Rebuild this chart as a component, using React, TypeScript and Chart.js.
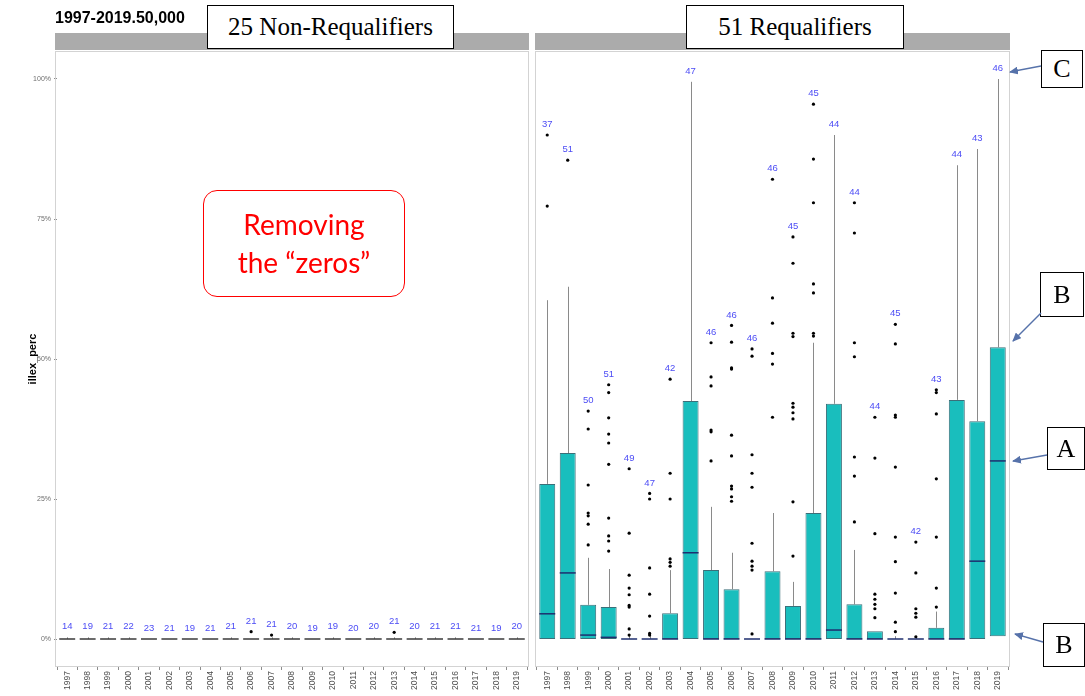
import React, { useEffect, useRef } from 'react';
import { Chart, registerables } from 'chart.js';

Chart.register(...registerables);

// ---------- data ----------
const years = ['1997', '1998', '1999', '2000', '2001', '2002', '2003', '2004', '2005', '2006', '2007', '2008',
  '2009', '2010', '2011', '2012', '2013', '2014', '2015', '2016', '2017', '2018', '2019'];

const yTicks = [0, 25, 50, 75, 100];

// 25 Non-Requalifiers
const nonCounts = [14, 19, 21, 22, 23, 21, 19, 21, 21, 21, 21, 20, 19, 19, 20, 20, 21, 20, 21, 21, 21, 19, 20];
const nonQ1 = [0, 0, 0, 0, 0, 0, 0, 0, 0, 0, 0, 0, 0, 0, 0, 0, 0, 0, 0, 0, 0, 0, 0];
const nonMedian = [0, 0, 0, 0, 0, 0, 0, 0, 0, 0, 0, 0, 0, 0, 0, 0, 0, 0, 0, 0, 0, 0, 0];
const nonQ3 = [0, 0, 0, 0, 0, 0, 0, 0, 0, 0, 0, 0, 0, 0, 0, 0, 0, 0, 0, 0, 0, 0, 0];
const nonWhiskerHi = [0.3, 0.3, 0.3, 0.3, 0, 0, 0, 0, 0.3, 0, 0.3, 0.3, 0, 0.3, 0, 0.3, 0.3, 0.3, 0.3, 0.3, 0, 0, 0.3];
const nonOutliers = [[], [], [], [], [], [], [], [], [], [1.3], [0.7], [], [], [], [], [], [1.2], [], [], [], [], [], []];

// 51 Requalifiers
const reqCounts = [37, 51, 50, 51, 49, 47, 42, 47, 46, 46, 46, 46, 45, 45, 44, 44, 44, 45, 42, 43, 44, 43, 46];
const reqQ1 = [0, 0, 0, 0, 0, 0, 0, 0, 0, 0, 0, 0, 0, 0, 0, 0, 0, 0, 0, 0, 0, 0, 0.5];
const reqMedian = [4.5, 11.8, 0.7, 0.3, 0, 0, 0, 15.4, 0, 0, 0, 0, 0, 0, 1.6, 0, 0, 0, 0, 0, 0, 13.9, 31.8];
const reqQ3 = [27.7, 33.2, 6.1, 5.7, 0, 0, 4.6, 42.5, 12.3, 8.9, 0, 12.1, 5.9, 22.5, 42.0, 6.2, 1.4, 0, 0, 2.0, 42.7, 38.9, 52.1];
const reqWhiskerHi = [60.5, 62.9, 14.5, 12.5, 0.6, 0.6, 12.3, 99.5, 23.6, 15.4, 0, 22.5, 10.2, 52.9, 90.0, 15.9, 1.4, 0.5, 0.6, 4.9, 84.6, 87.5, 100];
const reqOutliers = [
  [90.0, 77.3],
  [85.5],
  [40.7, 37.5, 27.5, 22.5, 22.0, 20.5, 16.8],
  [45.4, 44.0, 39.5, 36.6, 35.0, 31.2, 21.6, 18.4, 17.5, 15.7],
  [30.4, 18.9, 11.4, 9.1, 7.9, 6.0, 5.7, 1.8, 0.7],
  [26.0, 25.0, 12.7, 8.0, 4.1, 1.0, 0.7],
  [46.4, 29.6, 25.0, 14.3, 13.7, 13.0],
  [],
  [52.9, 46.8, 45.2, 37.3, 37.0, 31.8],
  [56.0, 53.0, 48.4, 48.2, 36.4, 32.7, 27.3, 26.8, 25.4, 24.6],
  [51.8, 50.5, 32.9, 29.6, 27.1, 17.1, 13.9, 13.0, 12.3, 0.9],
  [82.1, 60.9, 56.4, 51.0, 49.1, 39.6],
  [71.8, 67.1, 54.6, 54.0, 42.1, 41.4, 40.4, 39.3, 24.5, 14.8],
  [95.5, 85.7, 77.9, 63.4, 61.8, 54.6, 54.1],
  [],
  [77.9, 72.5, 52.9, 50.4, 32.5, 29.1, 20.9],
  [39.6, 32.3, 18.8, 8.0, 7.1, 6.2, 5.4, 3.8],
  [56.2, 52.7, 40.0, 39.6, 30.7, 18.2, 13.8, 8.2, 3.0, 1.3],
  [17.3, 11.8, 5.4, 4.6, 3.9, 0.4],
  [44.5, 44.0, 40.2, 28.6, 18.2, 9.1, 5.7],
  [],
  [],
  [],
];

// ---------- styles ----------
const BOX_FILL = '#19BEBD';
const BOX_EDGE = '#3B6F79';
const WHISKER = '#8A8A8A';
const COUNT_COLOR = '#4C4CF5';
const SANS = '"Liberation Sans", Arial, sans-serif';

type Panel = {
  q1: number[]; median: number[]; q3: number[]; whiskerHi: number[];
  outliers: number[][]; counts: number[]; medianColor: string;
};

function boxPlugin(p: Panel) {
  return {
    id: 'boxExtras',
    beforeDatasetsDraw(chart: any) {
      const { ctx, chartArea, scales } = chart;
      const x = scales.x, y = scales.y;
      const unit = (chartArea.right - chartArea.left) / years.length;
      ctx.save();
      ctx.strokeStyle = '#D3D3D3';
      ctx.lineWidth = 1;
      ctx.strokeRect(Math.round(chartArea.left - 0.1 * unit) + 0.5, chartArea.top + 0.5,
        Math.round(chartArea.right - chartArea.left + 0.2 * unit) - 1, chartArea.bottom - chartArea.top - 1);
      ctx.strokeStyle = WHISKER;
      ctx.lineWidth = 1;
      p.whiskerHi.forEach((w, i) => {
        if (w <= p.q3[i]) return;
        const px = Math.round(x.getPixelForValue(i)) + 0.5;
        ctx.beginPath();
        ctx.moveTo(px, y.getPixelForValue(p.q3[i]));
        ctx.lineTo(px, y.getPixelForValue(w));
        ctx.stroke();
      });
      ctx.restore();
    },
    afterDatasetsDraw(chart: any) {
      const { ctx, scales } = chart;
      const x = scales.x, y = scales.y;
      const meta = chart.getDatasetMeta(0);
      ctx.save();
      ctx.strokeStyle = p.medianColor;
      ctx.lineWidth = 1.5;
      meta.data.forEach((bar: any, i: number) => {
        const half = bar.width / 2;
        const py = y.getPixelForValue(p.median[i]);
        ctx.beginPath();
        ctx.moveTo(bar.x - half, py);
        ctx.lineTo(bar.x + half, py);
        ctx.stroke();
      });
      ctx.fillStyle = COUNT_COLOR;
      ctx.font = '9.5px ' + SANS;
      ctx.textAlign = 'center';
      ctx.textBaseline = 'middle';
      p.counts.forEach((c, i) => {
        const top = Math.max(p.whiskerHi[i], p.q3[i], ...p.outliers[i]);
        ctx.fillText(String(c), x.getPixelForValue(i), y.getPixelForValue(top) - 10.5);
      });
      ctx.restore();
    },
  };
}

function makeChart(canvas: HTMLCanvasElement, p: Panel, showY: boolean, padding: any) {
  const points: { x: string; y: number }[] = [];
  p.outliers.forEach((arr, i) => arr.forEach((v) => points.push({ x: years[i], y: v })));
  return new Chart(canvas, {
    type: 'bar',
    data: {
      labels: years,
      datasets: [
        {
          type: 'bar',
          data: p.q1.map((v, i) => [v, p.q3[i]]) as any,
          backgroundColor: BOX_FILL,
          borderColor: BOX_EDGE,
          borderWidth: 1,
          borderSkipped: false,
          barPercentage: 0.78,
          categoryPercentage: 1,
          order: 2,
        } as any,
        {
          type: 'line',
          data: points as any,
          showLine: false,
          pointRadius: 1.6,
          pointBackgroundColor: '#000',
          pointBorderWidth: 0,
          order: 1,
        } as any,
      ],
    },
    options: {
      responsive: false,
      animation: false,
      devicePixelRatio: 1,
      layout: { padding },
      plugins: { legend: { display: false }, tooltip: { enabled: false } },
      scales: {
        x: {
          type: 'category',
          offset: true,
          grid: { display: true, drawOnChartArea: false, tickLength: 3, color: '#8C8C8C' },
          border: { display: false },
          ticks: {
            autoSkip: false, maxRotation: 90, minRotation: 90, padding: 1,
            font: { family: SANS, size: 8.5 }, color: '#4D4D4D',
          },
          afterFit: (s: any) => { s.height = 29; },
        },
        y: {
          display: showY,
          min: -5,
          max: 105,
          afterBuildTicks: (s: any) => { s.ticks = yTicks.map((v) => ({ value: v })); },
          grid: { display: true, drawOnChartArea: false, tickLength: 3, color: '#8C8C8C' },
          border: { display: false },
          ticks: {
            padding: 3,
            font: { family: SANS, size: 7 },
            color: '#6E6E6E',
            callback: (v: any) => v + '%',
          },
          title: {
            display: true,
            text: 'illex_perc',
            font: { family: SANS, size: 11, weight: 'bold' },
            color: '#000',
            padding: { top: 26, bottom: 0 },
          },
          afterFit: (s: any) => { s.width = showY ? 57 : 0; },
        },
      },
    } as any,
    plugins: [boxPlugin(p)],
  });
}

const nonPanel: Panel = { q1: nonQ1, median: nonMedian, q3: nonQ3, whiskerHi: nonWhiskerHi, outliers: nonOutliers, counts: nonCounts, medianColor: '#3A3A3A' };
const reqPanel: Panel = { q1: reqQ1, median: reqMedian, q3: reqQ3, whiskerHi: reqWhiskerHi, outliers: reqOutliers, counts: reqCounts, medianColor: '#1E2E6E' };

const labelBox: React.CSSProperties = {
  position: 'absolute', boxSizing: 'border-box', border: '1px solid #000', background: '#fff',
  fontFamily: '"Liberation Serif", "Times New Roman", serif', color: '#000',
  display: 'flex', alignItems: 'center', justifyContent: 'center',
};

const ARROW = '#5672AA';

export default function App() {
  const leftRef = useRef<HTMLCanvasElement>(null);
  const rightRef = useRef<HTMLCanvasElement>(null);

  useEffect(() => {
    const c1 = makeChart(leftRef.current!, nonPanel, true, { top: 51, left: 0, right: 5, bottom: 0 });
    const c2 = makeChart(rightRef.current!, reqPanel, false, { top: 51, left: 5, right: 77, bottom: 0 });
    return () => { c1.destroy(); c2.destroy(); };
  }, []);

  return (
    <div style={{ position: 'absolute', left: 0, top: 0, width: 1085, height: 696, background: '#fff', overflow: 'hidden' }}>
      <canvas ref={leftRef} width={532} height={696} style={{ position: 'absolute', left: 0, top: 0, width: 532, height: 696 }} />
      <canvas ref={rightRef} width={553} height={696} style={{ position: 'absolute', left: 532, top: 0, width: 553, height: 696 }} />

      <div style={{ position: 'absolute', left: 55, top: 33, width: 474, height: 17, background: '#ABABAB' }} />
      <div style={{ position: 'absolute', left: 535, top: 33, width: 475, height: 17, background: '#ABABAB' }} />

      <div style={{ position: 'absolute', left: 55, top: 8, fontFamily: SANS, fontWeight: 'bold', fontSize: 16, lineHeight: '20px', color: '#000' }}>
        1997-2019.50,000
      </div>

      <div style={{ ...labelBox, left: 207, top: 5, width: 247, height: 44, fontSize: 25 }}>25 Non-Requalifiers</div>
      <div style={{ ...labelBox, left: 686, top: 5, width: 218, height: 44, fontSize: 25 }}>51 Requalifiers</div>

      <div style={{ position: 'absolute', left: 203, top: 190, width: 202, height: 107, boxSizing: 'border-box', border: '1.5px solid #FF0000', borderRadius: 14, background: '#fff' }} />
      <div style={{ position: 'absolute', left: 203, top: 205, width: 202, textAlign: 'center', fontFamily: 'Lato, "Open Sans", sans-serif', fontSize: 28, lineHeight: '38px', color: '#FF0000' }}>
        Removing<br />the “zeros”
      </div>

      <div style={{ ...labelBox, left: 1041, top: 50, width: 42, height: 38, fontSize: 26 }}>C</div>
      <div style={{ ...labelBox, left: 1040, top: 272, width: 44, height: 45, fontSize: 26 }}>B</div>
      <div style={{ ...labelBox, left: 1047, top: 427, width: 38, height: 43, fontSize: 26 }}>A</div>
      <div style={{ ...labelBox, left: 1043, top: 623, width: 42, height: 44, fontSize: 26 }}>B</div>

      <svg width={1085} height={696} style={{ position: 'absolute', left: 0, top: 0, pointerEvents: 'none' }}>
        <defs>
          <marker id="ah" markerWidth="9" markerHeight="8" refX="8" refY="4" orient="auto" markerUnits="userSpaceOnUse">
            <path d="M0,0 L9,4 L0,8 z" fill={ARROW} />
          </marker>
        </defs>
        <line x1={1041} y1={66} x2={1010} y2={72} stroke={ARROW} strokeWidth={1.5} markerEnd="url(#ah)" />
        <line x1={1041} y1={313} x2={1013} y2={341} stroke={ARROW} strokeWidth={1.5} markerEnd="url(#ah)" />
        <line x1={1047} y1={455} x2={1013} y2={461} stroke={ARROW} strokeWidth={1.5} markerEnd="url(#ah)" />
        <line x1={1043} y1={642} x2={1015} y2={634} stroke={ARROW} strokeWidth={1.5} markerEnd="url(#ah)" />
      </svg>
    </div>
  );
}
